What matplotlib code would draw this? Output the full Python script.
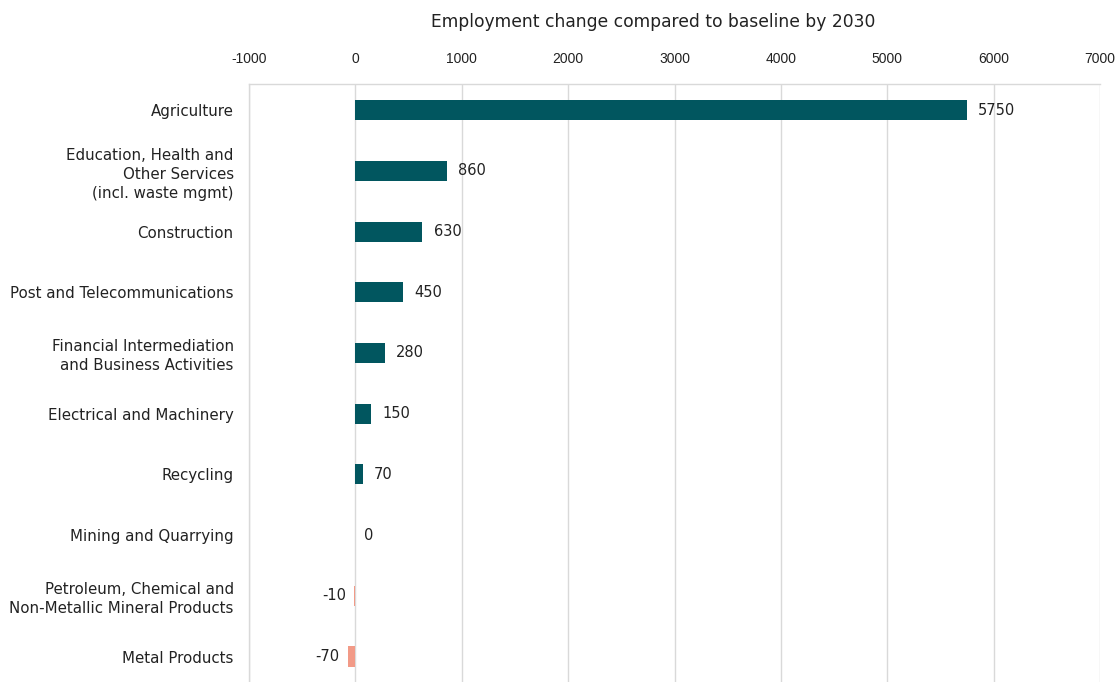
import matplotlib
matplotlib.use("Agg")
import matplotlib.pyplot as plt

categories = [
    "Agriculture",
    "Education, Health and\nOther Services\n(incl. waste mgmt)",
    "Construction",
    "Post and Telecommunications",
    "Financial Intermediation\nand Business Activities",
    "Electrical and Machinery",
    "Recycling",
    "Mining and Quarrying",
    "Petroleum, Chemical and\nNon-Metallic Mineral Products",
    "Metal Products",
]
values = [5750, 860, 630, 450, 280, 150, 70, 0, -10, -70]
xticks = [-1000, 0, 1000, 2000, 3000, 4000, 5000, 6000, 7000]
title = "Employment change compared to baseline by 2030"

pos_color = "#01565F"
neg_color = "#F29A87"
text_color = "#222222"

plt.rcParams['font.family'] = ['DejaVu Sans']
fig = plt.figure(figsize=(11.17, 6.82), dpi=100)
ax = fig.add_axes([249/1117, 0.0, (1100-249)/1117, 1 - 84/682])

ypos = list(range(len(categories)))
colors = [pos_color if v >= 0 else neg_color for v in values]
ax.barh(ypos, values, height=0.33, color=colors, zorder=3)

ax.set_xlim(-1000, 7000)
ax.set_ylim(9.42, -0.43)
ax.set_xticks(xticks)
ax.set_xticklabels([str(t) for t in xticks], fontsize=10, color=text_color,
                   family=['Liberation Sans', 'DejaVu Sans'])
ax.xaxis.tick_top()
ax.tick_params(axis='x', length=0, pad=13)
ax.set_yticks(ypos)
ax.set_yticklabels(categories, fontsize=10.8, color=text_color, linespacing=1.33)
ax.tick_params(axis='y', length=0, pad=11)

fig.text(653/1117, 1 - 22/682, title, fontsize=12.3, color=text_color,
         ha="center", va="center")

ax.grid(axis='x', color="#D9D9D9", linewidth=1, zorder=0)
for s in ["right", "bottom"]:
    ax.spines[s].set_visible(False)
for s in ["left", "top"]:
    ax.spines[s].set_color("#D9D9D9")
    ax.spines[s].set_linewidth(1)

for y, v in zip(ypos, values):
    if v > 0:
        ax.annotate(str(v), (v, y), xytext=(8, 0), textcoords="offset points",
                    ha="left", va="center", fontsize=10.5, color=text_color)
    elif v == 0:
        ax.annotate(str(v), (v, y), xytext=(6, 0), textcoords="offset points",
                    ha="left", va="center", fontsize=10.5, color=text_color)
    else:
        ax.annotate(str(v), (v, y), xytext=(-6, 0), textcoords="offset points",
                    ha="right", va="center", fontsize=10.5, color=text_color)

fig.savefig("out.png", dpi=100)
